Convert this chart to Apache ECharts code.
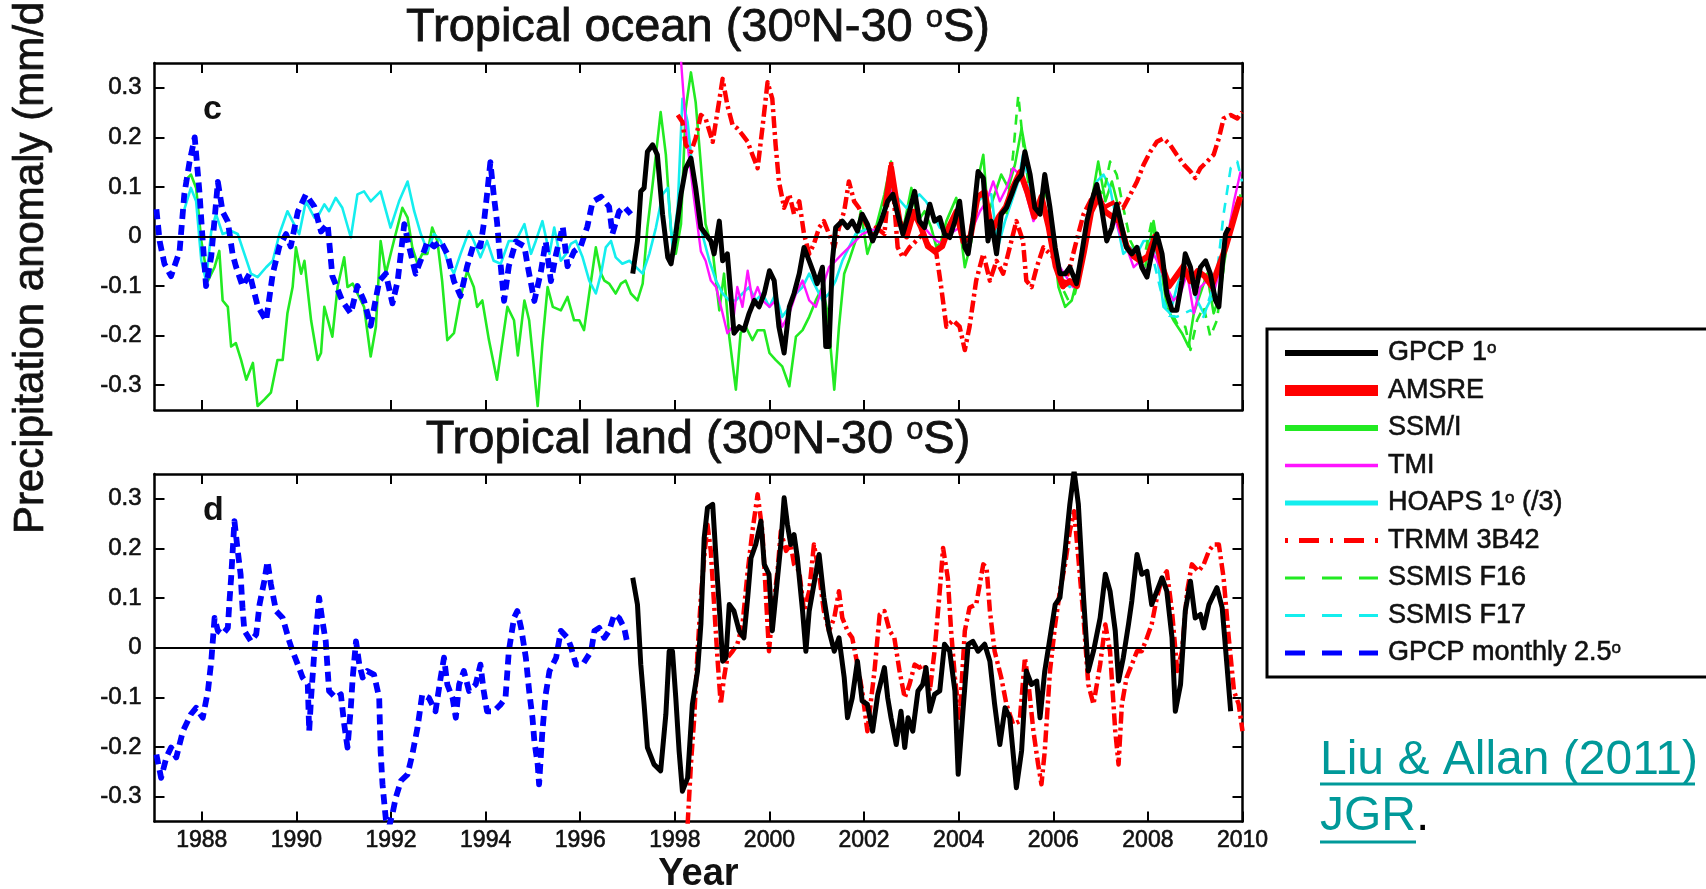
<!DOCTYPE html>
<html><head><meta charset="utf-8">
<script src="https://cdn.jsdelivr.net/npm/echarts@6/dist/echarts.min.js"></script>
<style>html,body{margin:0;padding:0;background:#fff}#c{width:1706px;height:889px}</style>
</head><body><div id="c"></div>
<script>
// ---------- tick labels / names ----------
const xTicks = [1988,1990,1992,1994,1996,1998,2000,2002,2004,2006,2008,2010];
const yTicks = [-0.3,-0.2,-0.1,0,0.1,0.2,0.3];
const legendNames = ['GPCP 1°','AMSRE','SSM/I','TMI','HOAPS 1° (/3)','TRMM 3B42','SSMIS F16','SSMIS F17','GPCP monthly 2.5°'];

// ---------- Tropical ocean (panel c) : [year, anomaly mm/d] ----------
const oceanGpcpMonthly = [[1987.04,0.055],[1987.11,-0.01],[1987.21,-0.055],[1987.35,-0.08],[1987.53,-0.03],[1987.63,0.085],[1987.74,0.15],[1987.85,0.2],[1987.95,0.09],[1988.02,-0.01],[1988.09,-0.1],[1988.2,-0.04],[1988.34,0.11],[1988.44,0.05],[1988.55,0.03],[1988.65,-0.035],[1988.72,-0.06],[1988.86,-0.1],[1989.01,-0.075],[1989.18,-0.14],[1989.36,-0.17],[1989.5,-0.075],[1989.64,-0.02],[1989.78,0.005],[1989.88,-0.02],[1990.03,0.05],[1990.2,0.085],[1990.38,0.06],[1990.52,0.01],[1990.66,0.025],[1990.76,-0.08],[1990.97,-0.13],[1991.15,-0.155],[1991.29,-0.1],[1991.43,-0.13],[1991.57,-0.18],[1991.75,-0.09],[1991.89,-0.075],[1992.03,-0.135],[1992.14,-0.09],[1992.28,0.025],[1992.38,-0.02],[1992.52,-0.075],[1992.66,-0.04],[1992.77,-0.01],[1992.91,-0.02],[1993.05,-0.01],[1993.19,-0.035],[1993.33,-0.09],[1993.47,-0.12],[1993.61,-0.06],[1993.75,-0.015],[1993.89,-0.02],[1993.96,0.025],[1994.03,0.085],[1994.1,0.15],[1994.17,0.085],[1994.24,0.03],[1994.32,-0.06],[1994.39,-0.13],[1994.49,-0.06],[1994.64,-0.01],[1994.82,-0.02],[1994.89,-0.06],[1995.03,-0.13],[1995.17,-0.07],[1995.27,-0.01],[1995.38,-0.09],[1995.49,-0.035],[1995.63,0.02],[1995.73,-0.06],[1995.87,-0.03],[1996.01,-0.02],[1996.15,0.02],[1996.26,0.07],[1996.44,0.08],[1996.61,0.06],[1996.68,0.005],[1996.82,0.05],[1996.93,0.06],[1997.07,0.045]];

const oceanSsmi = [[1987.63,0.111],[1987.77,0.125],[1987.88,0.098],[1987.99,-0.009],[1988.13,-0.089],[1988.27,-0.062],[1988.37,-0.029],[1988.44,-0.129],[1988.55,-0.142],[1988.62,-0.222],[1988.72,-0.215],[1988.83,-0.249],[1988.94,-0.289],[1989.08,-0.255],[1989.18,-0.342],[1989.32,-0.329],[1989.46,-0.315],[1989.6,-0.249],[1989.71,-0.249],[1989.81,-0.155],[1989.92,-0.102],[1989.99,-0.022],[1990.1,-0.075],[1990.17,-0.049],[1990.31,-0.169],[1990.45,-0.249],[1990.52,-0.235],[1990.59,-0.142],[1990.76,-0.202],[1990.87,-0.102],[1991.01,-0.042],[1991.08,-0.102],[1991.19,-0.095],[1991.29,-0.115],[1991.43,-0.142],[1991.57,-0.242],[1991.68,-0.182],[1991.78,-0.009],[1991.89,-0.075],[1992.06,-0.009],[1992.24,0.058],[1992.35,0.038],[1992.45,-0.022],[1992.56,-0.055],[1992.66,-0.035],[1992.77,-0.035],[1992.87,0.018],[1992.98,-0.009],[1993.08,-0.089],[1993.19,-0.209],[1993.33,-0.195],[1993.47,-0.122],[1993.61,-0.069],[1993.75,-0.102],[1993.82,-0.142],[1993.93,-0.129],[1994.07,-0.209],[1994.24,-0.289],[1994.35,-0.215],[1994.46,-0.142],[1994.6,-0.169],[1994.68,-0.24],[1994.82,-0.129],[1994.92,-0.169],[1994.99,-0.235],[1995.1,-0.342],[1995.2,-0.215],[1995.31,-0.102],[1995.42,-0.142],[1995.59,-0.149],[1995.73,-0.122],[1995.87,-0.169],[1995.98,-0.169],[1996.08,-0.189],[1996.19,-0.115],[1996.33,-0.022],[1996.44,-0.075],[1996.51,-0.089],[1996.61,-0.095],[1996.75,-0.115],[1996.86,-0.095],[1996.96,-0.089],[1997.07,-0.115],[1997.21,-0.129],[1997.32,-0.095],[1997.42,0.018],[1997.53,0.105],[1997.7,0.251],[1997.81,0.165],[1997.92,0.011],[1998.02,-0.035],[1998.13,0.025],[1998.23,0.258],[1998.34,0.331],[1998.44,0.271],[1998.55,0.145],[1998.65,0.025],[1998.8,-0.029],[1998.94,-0.149],[1999.04,-0.075],[1999.15,-0.202],[1999.29,-0.309],[1999.39,-0.195],[1999.5,-0.182],[1999.64,-0.209],[1999.75,-0.189],[1999.89,-0.189],[2000.0,-0.235],[2000.13,-0.249],[2000.27,-0.262],[2000.42,-0.302],[2000.56,-0.202],[2000.7,-0.189],[2000.84,-0.162],[2000.98,-0.129],[2001.12,-0.102],[2001.23,-0.155],[2001.37,-0.309],[2001.47,-0.182],[2001.58,-0.075],[2001.68,-0.049],[2001.82,-0.009],[2001.93,0.051],[2002.07,-0.035],[2002.25,0.018],[2002.43,0.085],[2002.57,0.151],[2002.71,0.045],[2002.82,0.011],[2003.0,0.098],[2003.14,0.031],[2003.28,0.051],[2003.42,0.018],[2003.53,-0.022],[2003.63,-0.009],[2003.74,0.031],[2003.95,0.078],[2004.13,-0.062],[2004.27,-0.009],[2004.37,0.098],[2004.52,0.165],[2004.62,0.045],[2004.76,0.085],[2004.9,0.125],[2005.05,0.098],[2005.19,0.145],[2005.33,0.218],[2005.43,0.165],[2005.58,0.051],[2005.72,0.045],[2005.86,0.098],[2006.0,-0.009],[2006.11,-0.102],[2006.25,-0.142],[2006.39,-0.129],[2006.53,-0.075],[2006.67,0.005],[2006.81,0.071],[2006.95,0.151],[2007.1,0.071],[2007.24,0.111],[2007.38,0.058],[2007.52,-0.009],[2007.66,-0.029],[2007.8,-0.049],[2007.94,-0.062],[2008.12,0.031],[2008.26,-0.049],[2008.4,-0.142],[2008.54,-0.169],[2008.72,-0.195],[2008.86,-0.222],[2008.97,-0.155],[2009.11,-0.115],[2009.25,-0.075],[2009.39,-0.155],[2009.53,-0.115],[2009.67,-0.009],[2009.82,0.045],[2009.96,0.085]];

const oceanHoaps = [[1987.6,0.045],[1987.77,0.098],[1987.88,0.071],[1987.99,-0.049],[1988.09,-0.089],[1988.2,0.011],[1988.3,0.045],[1988.44,0.005],[1988.62,0.011],[1988.76,0.005],[1988.9,-0.035],[1989.04,-0.075],[1989.18,-0.082],[1989.36,-0.062],[1989.5,-0.049],[1989.64,0.005],[1989.81,0.051],[1989.95,0.025],[1990.06,0.005],[1990.2,0.071],[1990.38,0.038],[1990.48,0.045],[1990.59,0.065],[1990.69,0.051],[1990.83,0.078],[1990.97,0.058],[1991.15,-0.002],[1991.29,0.085],[1991.43,0.091],[1991.57,0.071],[1991.78,0.091],[1991.99,0.018],[1992.17,0.071],[1992.35,0.111],[1992.49,0.051],[1992.63,0.005],[1992.77,-0.029],[1992.91,0.005],[1993.05,-0.009],[1993.19,-0.049],[1993.33,-0.075],[1993.47,-0.035],[1993.65,0.011],[1993.75,-0.009],[1993.89,-0.042],[1994.03,-0.009],[1994.17,-0.049],[1994.32,-0.055],[1994.49,-0.009],[1994.64,-0.009],[1994.82,0.025],[1994.96,-0.035],[1995.06,-0.009],[1995.2,0.031],[1995.35,-0.035],[1995.45,0.018],[1995.59,-0.049],[1995.7,-0.035],[1995.8,-0.015],[1995.91,-0.009],[1996.05,-0.042],[1996.19,-0.089],[1996.33,-0.115],[1996.44,-0.075],[1996.54,-0.022],[1996.65,-0.009],[1996.75,-0.042],[1996.89,-0.055],[1997.04,-0.049],[1997.18,-0.062],[1997.32,-0.075],[1997.46,-0.035],[1997.6,0.018],[1997.74,0.085],[1997.85,0.098],[1997.95,-0.022],[1998.06,0.058],[1998.16,0.278],[1998.27,0.231],[1998.37,0.138],[1998.48,0.058],[1998.58,0.005],[1998.73,-0.049],[1998.87,-0.089],[1999.01,-0.115],[1999.15,-0.129],[1999.29,-0.129],[1999.43,-0.115],[1999.57,-0.102],[1999.71,-0.129],[1999.85,-0.115],[2000.0,-0.142],[2000.13,-0.115],[2000.27,-0.162],[2000.42,-0.142],[2000.56,-0.115],[2000.7,-0.102],[2000.84,-0.075],[2000.98,-0.102],[2001.12,-0.129],[2001.26,-0.115],[2001.4,-0.089],[2001.54,-0.049],[2001.68,-0.022],[2001.82,0.005],[2001.96,0.011],[2002.11,0.018],[2002.25,0.005],[2002.43,0.058],[2002.57,0.098],[2002.71,0.078],[2002.89,0.058],[2003.03,0.071],[2003.17,0.085],[2003.31,0.071],[2003.46,0.045],[2003.6,0.018],[2003.74,0.011],[2003.95,0.045],[2004.13,-0.009],[2004.27,0.005],[2004.41,0.071],[2004.55,0.085],[2004.69,0.085],[2004.83,-0.022],[2004.98,0.031],[2005.12,0.071],[2005.26,0.111],[2005.36,0.165],[2005.51,0.098],[2005.65,0.051],[2005.79,0.071],[2005.93,0.031],[2006.07,-0.035],[2006.21,-0.089],[2006.35,-0.102],[2006.49,-0.089],[2006.64,-0.009],[2006.78,0.058],[2006.92,0.111],[2007.06,0.125],[2007.2,0.098],[2007.34,0.031],[2007.48,-0.035],[2007.63,-0.022],[2007.77,-0.035],[2007.91,-0.009],[2008.05,-0.009],[2008.19,-0.035],[2008.33,-0.142],[2008.47,-0.155],[2008.61,-0.102],[2008.76,-0.062],[2008.9,-0.089],[2009.04,-0.129],[2009.18,-0.155],[2009.32,-0.129],[2009.46,-0.115]];

const oceanTmi = [[1998.08,0.42],[1998.25,0.2],[1998.4,0.08],[1998.55,-0.03],[1998.65,-0.049],[1998.76,-0.089],[1998.87,-0.102],[1999.01,-0.155],[1999.11,-0.195],[1999.22,-0.182],[1999.32,-0.102],[1999.43,-0.142],[1999.54,-0.069],[1999.64,-0.129],[1999.75,-0.102],[1999.85,-0.129],[2000.0,-0.142],[2000.13,-0.129],[2000.27,-0.182],[2000.42,-0.155],[2000.56,-0.115],[2000.7,-0.089],[2000.84,-0.129],[2000.98,-0.142],[2001.12,-0.102],[2001.26,-0.062],[2001.4,-0.049],[2001.54,-0.035],[2001.68,-0.022],[2001.82,-0.009],[2001.96,0.005],[2002.11,0.011],[2002.33,0.018],[2002.54,0.098],[2002.68,0.058],[2002.82,0.011],[2003.03,0.045],[2003.17,0.031],[2003.39,0.005],[2003.53,-0.009],[2003.67,-0.015],[2003.81,0.005],[2004.02,0.018],[2004.16,-0.009],[2004.3,0.018],[2004.45,0.051],[2004.59,0.071],[2004.73,0.111],[2004.87,0.071],[2005.01,0.098],[2005.15,0.138],[2005.29,0.125],[2005.43,0.085],[2005.58,0.031],[2005.72,0.058],[2005.86,0.045],[2006.0,-0.009],[2006.14,-0.062],[2006.28,-0.082],[2006.42,-0.102],[2006.57,-0.062],[2006.71,0.018],[2006.85,0.071],[2006.99,0.085],[2007.13,0.045],[2007.27,0.045],[2007.41,0.005],[2007.55,-0.022],[2007.7,-0.062],[2007.84,-0.049],[2007.98,-0.075],[2008.12,-0.035],[2008.26,-0.062],[2008.4,-0.102],[2008.54,-0.129],[2008.69,-0.115],[2008.83,-0.075],[2008.97,-0.155],[2009.11,-0.102],[2009.25,-0.089],[2009.39,-0.115],[2009.53,-0.062],[2009.67,-0.009],[2009.82,0.071],[2009.96,0.131]];

const oceanAmsre = [[2002.45,0.06],[2002.57,0.14],[2002.75,0.03],[2002.9,0.0],[2003.05,0.05],[2003.2,0.02],[2003.35,-0.02],[2003.5,-0.03],[2003.65,-0.02],[2003.8,0.02],[2003.95,0.05],[2004.1,-0.01],[2004.25,0.0],[2004.4,0.08],[2004.55,0.09],[2004.7,0.01],[2004.85,0.04],[2005.0,0.06],[2005.15,0.1],[2005.3,0.13],[2005.45,0.09],[2005.6,0.04],[2005.75,0.08],[2005.9,0.02],[2006.05,-0.06],[2006.2,-0.1],[2006.35,-0.09],[2006.5,-0.1],[2006.65,-0.03],[2006.8,0.05],[2006.95,0.08],[2007.1,0.05],[2007.25,0.04],[2007.4,0.03],[2007.55,-0.02],[2007.7,-0.04],[2007.85,-0.05],[2008.0,-0.04],[2008.15,0.0],[2008.3,-0.06],[2008.45,-0.1],[2008.6,-0.08],[2008.75,-0.06],[2008.9,-0.09],[2009.05,-0.07],[2009.2,-0.08],[2009.35,-0.1],[2009.5,-0.06],[2009.65,-0.02],[2009.8,0.03],[2009.95,0.08]];

const oceanTrmm = [[1998.06,0.245],[1998.16,0.231],[1998.23,0.185],[1998.34,0.171],[1998.44,0.198],[1998.55,0.245],[1998.65,0.238],[1998.8,0.191],[1998.9,0.251],[1999.01,0.318],[1999.11,0.265],[1999.22,0.225],[1999.32,0.218],[1999.43,0.205],[1999.54,0.191],[1999.64,0.165],[1999.75,0.138],[1999.85,0.218],[1999.96,0.311],[2000.06,0.278],[2000.13,0.185],[2000.2,0.111],[2000.31,0.058],[2000.42,0.085],[2000.52,0.045],[2000.63,0.071],[2000.73,0.005],[2000.84,-0.035],[2000.94,-0.015],[2001.05,0.018],[2001.15,0.031],[2001.26,0.005],[2001.37,-0.022],[2001.47,0.018],[2001.58,0.051],[2001.68,0.111],[2001.79,0.071],[2001.89,0.058],[2002.04,0.025],[2002.18,0.005],[2002.25,0.018],[2002.43,0.005],[2002.57,0.151],[2002.71,-0.022],[2002.82,-0.042],[2002.96,-0.022],[2003.1,-0.009],[2003.24,0.005],[2003.39,-0.022],[2003.53,-0.035],[2003.63,-0.102],[2003.74,-0.182],[2003.88,-0.169],[2004.02,-0.182],[2004.13,-0.229],[2004.23,-0.182],[2004.37,-0.089],[2004.52,-0.035],[2004.66,-0.089],[2004.8,-0.049],[2004.94,-0.075],[2005.08,-0.022],[2005.22,0.031],[2005.36,-0.009],[2005.43,-0.089],[2005.54,-0.102],[2005.65,-0.062],[2005.79,-0.022],[2005.93,-0.035],[2006.07,-0.049],[2006.21,-0.102],[2006.35,-0.062],[2006.49,-0.009],[2006.64,0.045],[2006.78,0.071],[2006.92,0.098],[2007.06,0.058],[2007.2,0.065],[2007.34,0.071],[2007.48,0.058],[2007.63,0.085],[2007.77,0.111],[2007.91,0.145],[2008.05,0.171],[2008.19,0.191],[2008.33,0.198],[2008.47,0.185],[2008.61,0.165],[2008.76,0.145],[2008.9,0.131],[2009.0,0.118],[2009.11,0.138],[2009.25,0.151],[2009.39,0.165],[2009.5,0.198],[2009.6,0.238],[2009.75,0.245],[2009.89,0.238],[2009.99,0.251]];

const oceanF16 = [[2005.01,0.045],[2005.15,0.165],[2005.26,0.285],[2005.36,0.191],[2005.47,0.111],[2005.61,0.051],[2005.75,0.071],[2005.89,0.045],[2006.04,-0.035],[2006.18,-0.102],[2006.32,-0.129],[2006.46,-0.115],[2006.64,-0.035],[2006.78,0.045],[2006.92,0.098],[2007.06,0.085],[2007.2,0.151],[2007.34,0.125],[2007.48,0.058],[2007.63,-0.009],[2007.77,-0.035],[2007.91,-0.049],[2008.08,0.031],[2008.23,-0.035],[2008.37,-0.115],[2008.51,-0.155],[2008.65,-0.182],[2008.79,-0.182],[2008.9,-0.229],[2009.04,-0.169],[2009.18,-0.142],[2009.32,-0.202],[2009.46,-0.169],[2009.6,-0.062],[2009.75,0.031],[2009.89,0.071],[2009.99,0.085]];

const oceanF17 = [[2008.05,-0.02],[2008.3,-0.12],[2008.45,-0.16],[2008.61,-0.162],[2008.9,-0.149],[2009.18,-0.162],[2009.46,-0.075],[2009.6,0.045],[2009.75,0.138],[2009.89,0.151],[2009.99,0.111]];

const oceanGpcp1 = [[1997.11,-0.075],[1997.21,-0.009],[1997.28,0.091],[1997.35,0.098],[1997.42,0.171],[1997.53,0.185],[1997.63,0.165],[1997.74,0.045],[1997.85,-0.042],[1997.92,-0.055],[1998.02,0.005],[1998.13,0.085],[1998.23,0.138],[1998.34,0.158],[1998.44,0.098],[1998.55,0.018],[1998.65,0.005],[1998.76,-0.009],[1998.83,-0.035],[1998.94,0.031],[1999.01,-0.049],[1999.11,-0.035],[1999.18,-0.115],[1999.25,-0.195],[1999.36,-0.182],[1999.46,-0.189],[1999.57,-0.155],[1999.68,-0.129],[1999.78,-0.142],[1999.89,-0.115],[2000.0,-0.069],[2000.1,-0.089],[2000.2,-0.182],[2000.31,-0.235],[2000.42,-0.142],[2000.52,-0.115],[2000.63,-0.075],[2000.73,-0.022],[2000.84,-0.049],[2000.94,-0.075],[2001.01,-0.095],[2001.12,-0.062],[2001.19,-0.222],[2001.26,-0.222],[2001.33,-0.049],[2001.4,0.018],[2001.54,0.031],[2001.65,0.018],[2001.75,0.031],[2001.86,0.011],[2001.96,0.045],[2002.07,0.025],[2002.18,-0.009],[2002.36,0.031],[2002.5,0.071],[2002.61,0.085],[2002.71,0.045],[2002.82,0.005],[2002.96,0.051],[2003.07,0.091],[2003.17,0.031],[2003.28,0.018],[2003.39,0.065],[2003.49,0.031],[2003.6,0.038],[2003.7,0.005],[2003.81,-0.002],[2003.92,0.031],[2004.02,0.071],[2004.13,-0.022],[2004.2,-0.035],[2004.3,0.031],[2004.41,0.131],[2004.52,0.118],[2004.62,-0.009],[2004.69,0.031],[2004.8,-0.035],[2004.9,0.045],[2005.01,0.058],[2005.12,0.085],[2005.22,0.111],[2005.33,0.125],[2005.4,0.171],[2005.51,0.125],[2005.61,0.058],[2005.72,0.045],[2005.82,0.125],[2005.93,0.058],[2006.04,-0.022],[2006.14,-0.075],[2006.25,-0.075],[2006.35,-0.062],[2006.49,-0.095],[2006.6,-0.035],[2006.71,0.031],[2006.81,0.071],[2006.92,0.105],[2007.02,0.058],[2007.13,-0.009],[2007.24,0.018],[2007.34,0.065],[2007.45,0.018],[2007.55,-0.022],[2007.66,-0.035],[2007.77,-0.022],[2007.87,-0.062],[2007.98,-0.082],[2008.08,-0.035],[2008.19,0.005],[2008.3,-0.035],[2008.4,-0.115],[2008.51,-0.149],[2008.61,-0.149],[2008.72,-0.089],[2008.79,-0.035],[2008.9,-0.062],[2009.0,-0.115],[2009.11,-0.062],[2009.22,-0.049],[2009.32,-0.075],[2009.43,-0.129],[2009.5,-0.142],[2009.57,-0.062],[2009.64,0.005],[2009.71,0.018]];

// ---------- Tropical land (panel d) ----------
const landGpcpMonthly = [[1987.04,-0.215],[1987.14,-0.262],[1987.25,-0.221],[1987.35,-0.201],[1987.46,-0.221],[1987.6,-0.168],[1987.77,-0.134],[1987.88,-0.121],[1988.02,-0.141],[1988.13,-0.087],[1988.2,-0.027],[1988.27,0.06],[1988.34,0.034],[1988.44,0.027],[1988.55,0.04],[1988.58,0.087],[1988.62,0.141],[1988.69,0.255],[1988.76,0.195],[1988.82,0.148],[1988.86,0.081],[1988.9,0.034],[1989.04,0.013],[1989.15,0.027],[1989.22,0.087],[1989.32,0.134],[1989.39,0.174],[1989.46,0.128],[1989.57,0.074],[1989.71,0.06],[1989.85,0.013],[1989.92,-0.007],[1990.03,-0.034],[1990.13,-0.06],[1990.24,-0.074],[1990.27,-0.168],[1990.31,-0.101],[1990.38,-0.007],[1990.48,0.101],[1990.55,0.054],[1990.62,0.013],[1990.69,-0.087],[1990.83,-0.101],[1990.94,-0.094],[1991.01,-0.154],[1991.08,-0.201],[1991.15,-0.121],[1991.19,-0.06],[1991.26,0.013],[1991.33,-0.034],[1991.4,-0.06],[1991.5,-0.047],[1991.64,-0.054],[1991.75,-0.101],[1991.78,-0.208],[1991.82,-0.275],[1991.89,-0.345],[1991.96,-0.36],[1992.03,-0.335],[1992.1,-0.302],[1992.21,-0.268],[1992.35,-0.255],[1992.45,-0.215],[1992.56,-0.161],[1992.66,-0.094],[1992.8,-0.101],[1992.94,-0.128],[1993.05,-0.06],[1993.12,-0.02],[1993.19,-0.074],[1993.3,-0.101],[1993.37,-0.141],[1993.44,-0.074],[1993.54,-0.047],[1993.65,-0.087],[1993.79,-0.074],[1993.89,-0.034],[1993.96,-0.087],[1994.03,-0.128],[1994.17,-0.128],[1994.32,-0.114],[1994.42,-0.101],[1994.49,-0.007],[1994.6,0.06],[1994.67,0.074],[1994.75,0.04],[1994.85,-0.02],[1994.92,-0.087],[1994.99,-0.141],[1995.03,-0.188],[1995.1,-0.235],[1995.13,-0.275],[1995.2,-0.168],[1995.27,-0.094],[1995.35,-0.047],[1995.49,-0.02],[1995.59,0.034],[1995.73,0.02],[1995.8,0.003],[1995.91,-0.034],[1996.05,-0.034],[1996.23,-0.007],[1996.3,0.034],[1996.4,0.04],[1996.51,0.02],[1996.61,0.034],[1996.72,0.067],[1996.82,0.06],[1996.93,0.04],[1997.0,0.007]];

const landTrmm = [[1998.27,-0.356],[1998.34,-0.235],[1998.41,-0.141],[1998.48,-0.007],[1998.55,0.101],[1998.62,0.181],[1998.69,0.248],[1998.76,0.195],[1998.83,0.087],[1998.9,-0.02],[1998.97,-0.114],[1999.04,-0.06],[1999.11,-0.02],[1999.22,-0.007],[1999.32,0.007],[1999.43,0.047],[1999.54,0.154],[1999.64,0.235],[1999.75,0.309],[1999.85,0.235],[1999.92,0.114],[1999.99,-0.007],[2000.06,0.067],[2000.17,0.154],[2000.24,0.235],[2000.35,0.195],[2000.45,0.208],[2000.52,0.168],[2000.63,0.154],[2000.73,0.074],[2000.84,0.114],[2000.94,0.208],[2001.05,0.148],[2001.15,0.074],[2001.26,0.034],[2001.37,0.06],[2001.47,0.114],[2001.54,0.06],[2001.65,0.034],[2001.75,0.02],[2001.86,-0.034],[2001.96,-0.087],[2002.07,-0.168],[2002.22,-0.047],[2002.33,0.067],[2002.43,0.074],[2002.54,0.034],[2002.64,0.02],[2002.75,-0.047],[2002.86,-0.101],[2002.96,-0.074],[2003.07,-0.034],[2003.17,-0.04],[2003.28,-0.034],[2003.39,-0.087],[2003.49,-0.007],[2003.6,0.114],[2003.67,0.201],[2003.77,0.141],[2003.84,0.034],[2003.92,-0.06],[2004.02,-0.141],[2004.13,0.034],[2004.23,0.081],[2004.37,0.087],[2004.52,0.168],[2004.59,0.161],[2004.66,0.074],[2004.76,-0.007],[2004.9,-0.06],[2005.01,-0.114],[2005.15,-0.154],[2005.29,-0.148],[2005.4,-0.02],[2005.47,-0.067],[2005.58,-0.168],[2005.68,-0.235],[2005.75,-0.275],[2005.82,-0.208],[2005.93,-0.047],[2006.04,0.047],[2006.14,0.114],[2006.25,0.168],[2006.35,0.235],[2006.44,0.275],[2006.53,0.181],[2006.64,0.06],[2006.74,-0.074],[2006.85,-0.114],[2006.99,-0.034],[2007.1,0.047],[2007.2,-0.007],[2007.31,-0.168],[2007.38,-0.235],[2007.45,-0.114],[2007.55,-0.06],[2007.66,-0.034],[2007.77,-0.007],[2007.87,-0.007],[2007.98,0.02],[2008.08,0.047],[2008.19,0.101],[2008.3,0.141],[2008.4,0.154],[2008.51,0.074],[2008.62,-0.047],[2008.72,-0.007],[2008.83,0.114],[2008.93,0.168],[2009.07,0.154],[2009.18,0.168],[2009.29,0.195],[2009.39,0.208],[2009.5,0.208],[2009.6,0.141],[2009.71,0.02],[2009.82,-0.087],[2009.92,-0.114],[2010.0,-0.168]];

const landGpcp1 = [[1997.11,0.141],[1997.21,0.087],[1997.28,-0.034],[1997.35,-0.114],[1997.42,-0.201],[1997.56,-0.235],[1997.7,-0.248],[1997.81,-0.134],[1997.88,-0.007],[1997.95,-0.007],[1998.02,-0.101],[1998.09,-0.208],[1998.16,-0.289],[1998.27,-0.262],[1998.37,-0.114],[1998.48,-0.047],[1998.55,0.047],[1998.62,0.221],[1998.69,0.282],[1998.8,0.289],[1998.87,0.181],[1998.94,0.081],[1999.01,-0.027],[1999.08,-0.02],[1999.15,0.087],[1999.25,0.074],[1999.36,0.034],[1999.46,0.02],[1999.54,0.101],[1999.61,0.181],[1999.71,0.208],[1999.82,0.255],[1999.89,0.168],[1999.99,0.148],[2000.06,0.034],[2000.13,0.101],[2000.24,0.208],[2000.31,0.302],[2000.38,0.248],[2000.45,0.208],[2000.52,0.228],[2000.59,0.181],[2000.7,0.074],[2000.77,-0.007],[2000.84,0.074],[2000.94,0.128],[2001.05,0.188],[2001.15,0.101],[2001.26,0.034],[2001.37,-0.007],[2001.47,0.02],[2001.58,-0.06],[2001.65,-0.141],[2001.75,-0.101],[2001.86,-0.027],[2001.96,-0.107],[2002.07,-0.114],[2002.18,-0.168],[2002.29,-0.094],[2002.43,-0.04],[2002.5,-0.101],[2002.57,-0.141],[2002.68,-0.195],[2002.78,-0.128],[2002.86,-0.201],[2002.93,-0.141],[2003.03,-0.168],[2003.14,-0.087],[2003.24,-0.074],[2003.31,-0.04],[2003.39,-0.128],[2003.49,-0.094],[2003.6,-0.087],[2003.7,0.007],[2003.81,-0.007],[2003.92,-0.087],[2003.99,-0.255],[2004.09,-0.128],[2004.2,0.007],[2004.3,0.013],[2004.41,-0.007],[2004.55,0.007],[2004.66,-0.027],[2004.76,-0.114],[2004.87,-0.195],[2004.98,-0.121],[2005.08,-0.141],[2005.22,-0.282],[2005.33,-0.208],[2005.43,-0.047],[2005.54,-0.074],[2005.65,-0.067],[2005.72,-0.141],[2005.82,-0.047],[2005.93,0.02],[2006.04,0.087],[2006.14,0.101],[2006.25,0.195],[2006.35,0.289],[2006.44,0.356],[2006.53,0.289],[2006.64,0.101],[2006.74,-0.047],[2006.85,-0.007],[2006.99,0.06],[2007.1,0.148],[2007.2,0.114],[2007.31,0.034],[2007.38,-0.067],[2007.48,-0.02],[2007.59,0.047],[2007.66,0.094],[2007.77,0.188],[2007.87,0.148],[2007.98,0.154],[2008.08,0.087],[2008.19,0.114],[2008.3,0.141],[2008.4,0.114],[2008.51,0.02],[2008.58,-0.128],[2008.69,-0.074],[2008.79,0.074],[2008.9,0.134],[2009.0,0.06],[2009.11,0.067],[2009.18,0.04],[2009.29,0.087],[2009.46,0.121],[2009.57,0.081],[2009.67,-0.034],[2009.75,-0.128]];

// ---------- styles ----------
const FONT = 'Liberation Sans, Arial, Helvetica, sans-serif';
const INK = '#111111';
const GREEN = '#22ea22', CYAN = '#14eeee', MAGENTA = '#ff14ff', RED = '#ff0000', BLUE = '#0000ff';
const ST = {
  'GPCP 1°': {color:'#000', width:5, type:'solid'},
  'AMSRE': {color:RED, width:6, type:'solid'},
  'SSM/I': {color:GREEN, width:2.6, type:'solid'},
  'TMI': {color:MAGENTA, width:2.4, type:'solid'},
  'HOAPS 1° (/3)': {color:CYAN, width:2.6, type:'solid'},
  'TRMM 3B42': {color:RED, width:4.5, type:[12,4,3,4]},
  'SSMIS F16': {color:GREEN, width:2.6, type:[10,8]},
  'SSMIS F17': {color:CYAN, width:2.6, type:[10,8]},
  'GPCP monthly 2.5°': {color:BLUE, width:5.8, type:[10,6]}
};
const LEG = {
  'GPCP 1°': {w:6}, 'AMSRE': {w:11}, 'SSM/I': {w:6}, 'TMI': {w:3.5}, 'HOAPS 1° (/3)': {w:5},
  'TRMM 3B42': {w:5, dash:[3,11,20,11]}, 'SSMIS F16': {w:3, dash:[20,17]}, 'SSMIS F17': {w:3, dash:[20,17]},
  'GPCP monthly 2.5°': {w:5, dash:[20,17]}
};

const zeroLine = {silent:true, symbol:['none','none'], label:{show:false}, animation:false,
  lineStyle:{color:'#000', width:1.8, type:'solid'}, data:[{yAxis:0}]};

function mk(name, data, g, withZero) {
  const st = ST[name];
  const s = {type:'line', name, data, xAxisIndex:g*2, yAxisIndex:g*2, symbol:'none', showSymbol:false,
    clip:true, animation:false, silent:true, emphasis:{disabled:true},
    lineStyle:{color:st.color, width:st.width, type:st.type, cap:'butt', join:'round'},
    itemStyle:{color:st.color}};
  if (withZero) s.markLine = zeroLine;
  return s;
}

const series = [
  mk('SSM/I', oceanSsmi, 0, true),
  mk('HOAPS 1° (/3)', oceanHoaps, 0),
  mk('SSMIS F16', oceanF16, 0),
  mk('SSMIS F17', oceanF17, 0),
  mk('TMI', oceanTmi, 0),
  mk('AMSRE', oceanAmsre, 0),
  mk('TRMM 3B42', oceanTrmm, 0),
  mk('GPCP monthly 2.5°', oceanGpcpMonthly, 0),
  mk('GPCP 1°', oceanGpcp1, 0),
  mk('GPCP monthly 2.5°', landGpcpMonthly, 1, true),
  mk('TRMM 3B42', landTrmm, 1),
  mk('GPCP 1°', landGpcp1, 1)
];

// ---------- axes ----------
const frame = {show:true, onZero:false, lineStyle:{color:'#000', width:2.5}};
const heavy = {textBorderColor:INK, textBorderWidth:0.6};
function xAx(g, pos, labels) {
  return {type:'value', gridIndex:g, position:pos, min:1987, max:2010,
    axisLine:frame, splitLine:{show:false},
    axisTick:{show:true, inside:true, length:10, customValues:xTicks, lineStyle:{color:'#000', width:2}},
    axisLabel:Object.assign({show:labels, customValues:xTicks, color:INK, fontSize:23, fontFamily:FONT, margin:8,
      formatter: v => String(Math.round(v))}, heavy),
    name: labels ? 'Year' : '', nameLocation:'middle', nameGap:34,
    nameTextStyle:{fontSize:38, fontWeight:'bold', color:INK, fontFamily:FONT}};
}
function yAx(g, pos, labels) {
  return {type:'value', gridIndex:g, position:pos, min:-0.35, max:0.35,
    axisLine:frame, splitLine:{show:false},
    axisTick:{show:true, inside:true, length:10, customValues:yTicks, lineStyle:{color:'#000', width:2}},
    axisLabel:Object.assign({show:labels, customValues:yTicks, color:INK, fontSize:24, fontFamily:FONT, margin:13,
      formatter: v => (Math.abs(v) < 1e-9 ? '0' : (Math.round(v * 10) / 10).toFixed(1))}, heavy)};
}

// ---------- legend (boxed, drawn as graphic) ----------
const legendChildren = [{type:'rect', shape:{x:1267, y:329, width:460, height:348},
  style:{fill:'#fff', stroke:'#000', lineWidth:3}}];
legendNames.forEach((n, i) => {
  const y = 353 + i * 37.5;
  const st = ST[n], lg = LEG[n];
  legendChildren.push({type:'line', shape:{x1:1285, y1:y, x2:1378, y2:y},
    style:{stroke:st.color, lineWidth:lg.w, lineDash:lg.dash || null, lineCap:'butt'}});
  legendChildren.push({type:'text', x:1388, y:y,
    style:{text:n.replace('°', '{s|o}'), fontSize:27, fontFamily:FONT, fill:INK, stroke:INK, lineWidth:0.6,
      align:'left', verticalAlign:'middle',
      rich:{s:{fontSize:17, fontFamily:FONT, fill:INK, verticalAlign:'top', padding:[0,0,9,0]}}}});
});

const TEAL = '#009999';
const graphic = [
  {type:'text', x:31, y:534, rotation:Math.PI/2,
    style:{text:'Precipitation anomaly (mm/d', fontSize:42, fontFamily:FONT, fill:INK, stroke:INK, lineWidth:0.7,
      align:'left', verticalAlign:'middle'}},
  {type:'text', x:203, y:110, style:{text:'c', fontSize:34, fontWeight:'bold', fontFamily:FONT, fill:INK, align:'left', verticalAlign:'middle'}},
  {type:'text', x:203, y:511, style:{text:'d', fontSize:34, fontWeight:'bold', fontFamily:FONT, fill:INK, align:'left', verticalAlign:'middle'}},
  {type:'group', children:legendChildren},
  {type:'text', x:1320, y:761, style:{text:'Liu & Allan (2011)', fontSize:48, fontFamily:FONT, fill:TEAL, align:'left', verticalAlign:'middle'}},
  {type:'line', shape:{x1:1320, y1:784, x2:1695, y2:784}, style:{stroke:TEAL, lineWidth:3}},
  {type:'text', x:1320, y:817, style:{text:'{l|JGR}{k|.}', fontSize:48, fontFamily:FONT, align:'left', verticalAlign:'middle',
    rich:{l:{fontSize:48, fontFamily:FONT, fill:TEAL}, k:{fontSize:48, fontFamily:FONT, fill:'#000'}}}},
  {type:'line', shape:{x1:1320, y1:842, x2:1416, y2:842}, style:{stroke:TEAL, lineWidth:3}}
];

const titleRich = {a:{fontSize:47, fontWeight:'normal', fontFamily:FONT, color:INK, lineHeight:50, textBorderColor:INK, textBorderWidth:0.8},
                   s:{fontSize:31, fontWeight:'normal', fontFamily:FONT, color:INK, verticalAlign:'top', lineHeight:30, textBorderColor:INK, textBorderWidth:0.6}};
const option = {
  backgroundColor:'#fff',
  animation:false,
  title:[
    {text:'{a|Tropical ocean (30}{s|o}{a|N-30 }{s|o}{a|S)}', left:698, top:3, textAlign:'center', padding:0,
      textStyle:{fontWeight:'normal', rich:titleRich}},
    {text:'{a|Tropical land (30}{s|o}{a|N-30 }{s|o}{a|S)}', left:698, top:415, textAlign:'center', padding:0,
      textStyle:{fontWeight:'normal', rich:titleRich}}
  ],
  grid:[
    {left:154.5, top:63, width:1088, height:347, containLabel:false, outerBoundsMode:'none'},
    {left:154.5, top:474, width:1088, height:347.5, containLabel:false, outerBoundsMode:'none'}
  ],
  xAxis:[xAx(0,'bottom',false), xAx(0,'top',false), xAx(1,'bottom',true), xAx(1,'top',false)],
  yAxis:[yAx(0,'left',true), yAx(0,'right',false), yAx(1,'left',true), yAx(1,'right',false)],
  tooltip:{show:false},
  series,
  graphic
};
const chart = echarts.init(document.getElementById('c'), null, {renderer:'canvas'});
chart.setOption(option);
</script>
</body></html>
